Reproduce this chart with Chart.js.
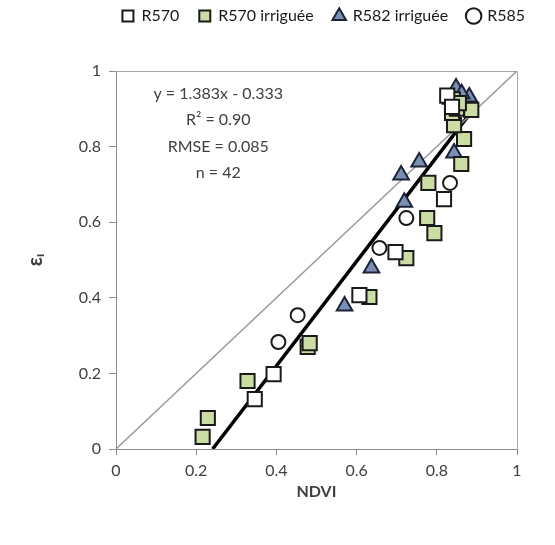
<!DOCTYPE html>
<html>
<head>
<meta charset="utf-8">
<script src="https://cdn.jsdelivr.net/npm/chart.js@4/dist/chart.umd.min.js"></script>
<style>
  html, body { margin: 0; padding: 0; background: #fff; }
  #wrap { width: 555px; height: 545px; }
</style>
</head>
<body>
<div id="wrap"><canvas id="chart"></canvas></div>
<script>
// Data (NDVI, epsilon_i)
const r570X = [0.346, 0.393, 0.607, 0.697, 0.818, 0.826, 0.838];
const r570Y = [0.132, 0.198, 0.407, 0.521, 0.661, 0.935, 0.905];

const r570irrX = [0.216, 0.229, 0.328, 0.478, 0.483, 0.632, 0.724, 0.794, 0.776, 0.779, 0.861, 0.868, 0.843, 0.838, 0.886, 0.840, 0.850, 0.855];
const r570irrY = [0.032, 0.082, 0.180, 0.270, 0.280, 0.402, 0.505, 0.571, 0.611, 0.704, 0.754, 0.820, 0.857, 0.889, 0.897, 0.925, 0.900, 0.915];

const r582irrX = [0.570, 0.637, 0.719, 0.711, 0.756, 0.843, 0.848, 0.881, 0.862, 0.835];
const r582irrY = [0.378, 0.479, 0.653, 0.725, 0.759, 0.783, 0.955, 0.931, 0.940, 0.925];

const r585X = [0.405, 0.453, 0.657, 0.724, 0.833, 0.848, 0.835];
const r585Y = [0.283, 0.354, 0.532, 0.611, 0.704, 0.918, 0.930];

// 1:1 line and fitted line end points
const oneToOneX = [0, 1];
const oneToOneY = [0, 1];
const fitX = [0.241, 0.886];
const fitY = [0, 0.892];

const statsLines = ["y = 1.383x - 0.333", "R\u00b2 = 0.90", "RMSE = 0.085", "n = 42"];
const tickValues = [0, 0.2, 0.4, 0.6, 0.8, 1];

const FONT = "Lato, 'Liberation Sans', sans-serif";
const TEXT = "#404040";

function pts(xs, ys) {
  return xs.map((x, i) => ({ x: x, y: ys[i] }));
}

// plot frame + stats text, legend pulled up to the top edge
const extras = {
  id: "extras",
  beforeDraw(chart) {
    if (chart.legend) chart.legend.top = -12;
  },
  beforeDatasetsDraw(chart) {
    const a = chart.chartArea, ctx = chart.ctx;
    ctx.save();
    ctx.strokeStyle = "#a6a6a6";
    ctx.lineWidth = 1;
    ctx.beginPath();
    ctx.moveTo(a.left, a.top + 0.5);
    ctx.lineTo(a.right + 0.5, a.top + 0.5);
    ctx.lineTo(a.right + 0.5, a.bottom);
    ctx.stroke();
    ctx.restore();
  },
  afterDraw(chart) {
    const ctx = chart.ctx;
    const xs = chart.scales.x, ys = chart.scales.y;
    ctx.save();
    ctx.fillStyle = TEXT;
    ctx.font = "16px " + FONT;
    ctx.textAlign = "center";
    ctx.textBaseline = "middle";
    const cx = xs.getPixelForValue(0.255);
    const top = ys.getPixelForValue(0.94);
    statsLines.forEach((t, i) => ctx.fillText(t, cx, top + i * 26.5));
    ctx.restore();
  }
};

new Chart(document.getElementById("chart"), {
  type: "scatter",
  data: {
    datasets: [
      {
        label: "R570",
        data: pts(r570X, r570Y),
        pointStyle: "rect",
        pointRadius: 10,
        pointHoverRadius: 10,
        backgroundColor: "#ffffff",
        borderColor: "#1a1a1a",
        borderWidth: 2
      },
      {
        label: "R570 irriguée",
        data: pts(r570irrX, r570irrY),
        pointStyle: "rect",
        pointRadius: 10,
        pointHoverRadius: 10,
        backgroundColor: "#cbdca4",
        borderColor: "#1a1a1a",
        borderWidth: 2
      },
      {
        label: "R582 irriguée",
        data: pts(r582irrX, r582irrY),
        pointStyle: "triangle",
        pointRadius: 9,
        pointHoverRadius: 9,
        backgroundColor: "#7b8fb4",
        borderColor: "#1c2338",
        borderWidth: 2
      },
      {
        label: "R585",
        data: pts(r585X, r585Y),
        pointStyle: "circle",
        pointRadius: 7,
        pointHoverRadius: 7,
        backgroundColor: "#ffffff",
        borderColor: "#1a1a1a",
        borderWidth: 2
      },
      {
        label: "1:1",
        data: pts(oneToOneX, oneToOneY),
        showLine: true,
        pointRadius: 0,
        borderColor: "#9a9a9a",
        borderWidth: 1.5
      },
      {
        label: "fit",
        data: pts(fitX, fitY),
        showLine: true,
        pointRadius: 0,
        borderColor: "#000000",
        borderWidth: 3.5
      }
    ]
  },
  options: {
    responsive: true,
    maintainAspectRatio: false,
    animation: false,
    layout: { padding: { top: 0, right: 10, bottom: 0, left: 0 } },
    plugins: {
      tooltip: { enabled: false },
      legend: {
        position: "top",
        align: "end",
        labels: {
          usePointStyle: true,
          boxWidth: 11,
          boxHeight: 11,
          padding: 20,
          color: "#1a1a1a",
          font: { family: FONT, size: 16 },
          filter: item => item.datasetIndex < 4
        }
      }
    },
    scales: {
      x: {
        type: "linear",
        min: 0,
        max: 1,
        afterFit: s => { s.height = 96; s.paddingRight = 38; },
        afterBuildTicks: s => { s.ticks = tickValues.map(v => ({ value: v })); },
        border: { color: "#8c8c8c", width: 1 },
        grid: { drawOnChartArea: false, drawTicks: true, tickLength: 6, color: "#8c8c8c" },
        ticks: { color: TEXT, padding: 6, font: { family: FONT, size: 16 }, maxRotation: 0, callback: v => String(v) },
        title: {
          display: true,
          text: "NDVI",
          color: TEXT,
          font: { family: FONT, size: 16, weight: "bold" },
          padding: { top: 0, bottom: 44 }
        }
      },
      y: {
        type: "linear",
        min: 0,
        max: 1,
        afterFit: s => { s.width = 116; s.paddingTop = 71; },
        afterBuildTicks: s => { s.ticks = tickValues.map(v => ({ value: v })); },
        border: { color: "#8c8c8c", width: 1 },
        grid: { drawOnChartArea: false, drawTicks: true, tickLength: 7, color: "#8c8c8c" },
        ticks: { color: TEXT, padding: 8, font: { family: FONT, size: 16 }, callback: v => String(v) },
        title: {
          display: true,
          text: "\u03b5\u1d62",
          color: TEXT,
          font: { family: FONT, size: 20, weight: "bold" },
          padding: { top: 24, bottom: 0 }
        }
      }
    }
  },
  plugins: [extras]
});
</script>
</body>
</html>
